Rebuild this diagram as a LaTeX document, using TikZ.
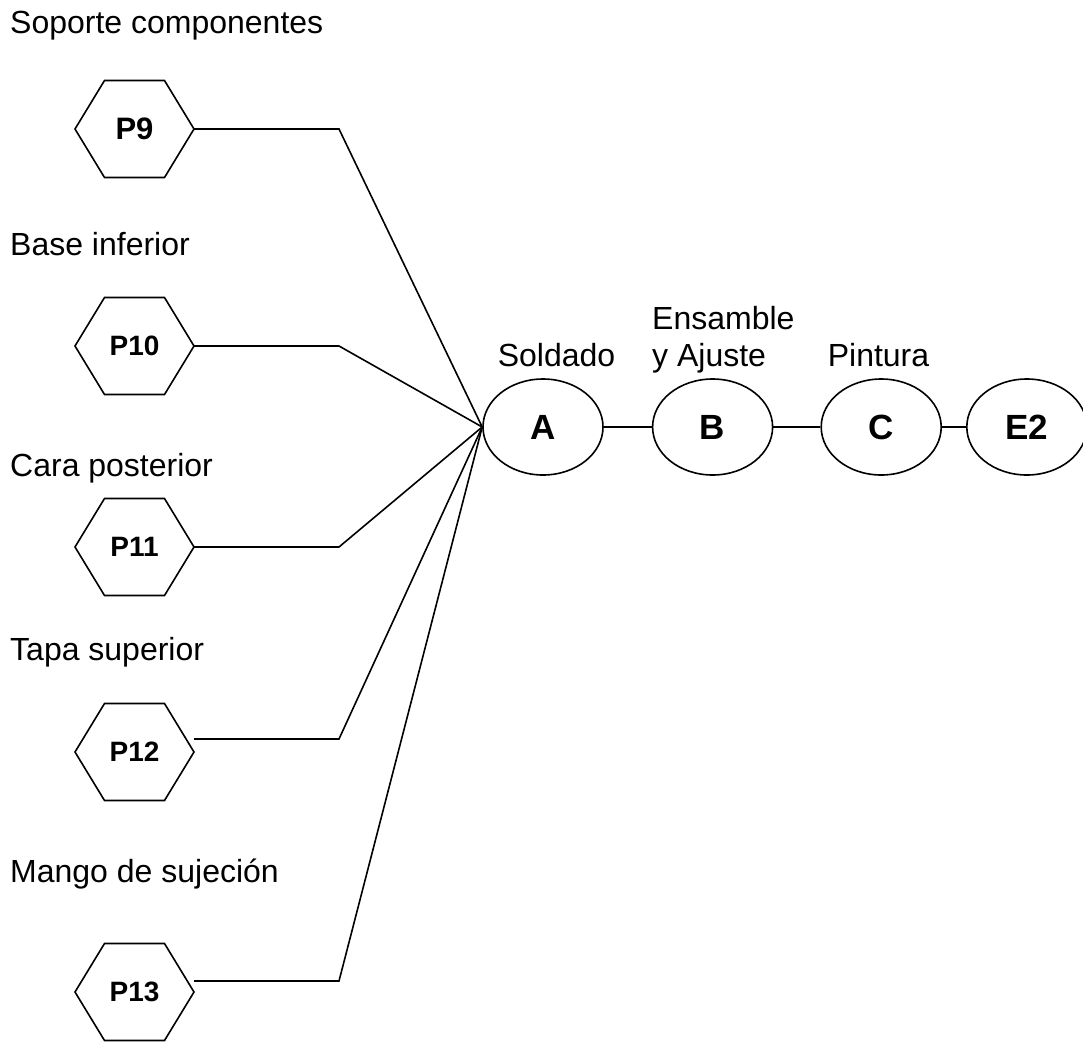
\documentclass[tikz,border=0pt]{standalone}
\usepackage{fontspec}
\setmainfont{Liberation Sans}
\usepackage{tikz}
\usetikzlibrary{positioning,shapes.geometric}
\definecolor{ink}{HTML}{000000}
\tikzset{
  partnode/.style={
    minimum width=119pt,
    minimum height=97pt,
    inner sep=0pt,
    outer sep=0pt,
    font=\bfseries\fontsize{28}{32}\selectfont
  },
  hexline/.style={line width=1.6pt,draw=ink,line join=miter},
  stepnode/.style={
    draw=ink,
    ellipse,
    minimum width=120pt,
    minimum height=96pt,
    inner sep=0pt,
    line width=1.6pt,
    font=\bfseries\fontsize{35}{40}\selectfont
  },
  parttext/.style={anchor=base west,inner sep=0pt,font=\fontsize{32}{37}\selectfont},
  steptext/.style={anchor=base,inner sep=0pt,align=left,font=\fontsize{32}{37}\selectfont},
  joinline/.style={line width=1.6pt,draw=ink}
}

\begin{document}
\begin{tikzpicture}[x=1pt,y=-1pt,node distance=48pt]
  \useasboundingbox (0,0) rectangle (1083,1041);
  \node[parttext] (t9) at (10,34) {Soporte componentes};
  \node[parttext] (t10) at (10,255) {Base inferior};
  \node[parttext] (t11) at (10,476) {Cara posterior};
  \node[parttext] (t12) at (10,660) {Tapa superior};
  \node[parttext] (t13) at (10,882) {Mango de sujeción};
  \node[partnode, font=\bfseries\fontsize{31}{36}\selectfont] (p9) at (134.5,129) {P9};
  \node[partnode] (p10) at (134.5,346) {P10};
  \node[partnode] (p11) at (134.5,547) {P11};
  \node[partnode] (p12) at (134.5,752) {P12};
  \node[partnode] (p13) at (134.5,992) {P13};
  \foreach \p in {p9,p10,p11,p12,p13}
    \draw[hexline] (\p.west) -- ([xshift=29.5pt]\p.north west) -- ([xshift=-29.5pt]\p.north east)
      -- (\p.east) -- ([xshift=-29.5pt]\p.south east) -- ([xshift=29.5pt]\p.south west) -- cycle;
  \node[stepnode] (A) at (543,427) {A};
  \node[stepnode, right=48pt of A] (B) {B};
  \node[stepnode, right=47pt of B] (C) {C};
  \node[stepnode, right=24pt of C] (E2) {E2};
  \node[steptext] (sA) at (556.5,366) {Soldado};
  \node[steptext, anchor=base west] (sB) at (652,366) {Ensamble\\y Ajuste};
  \node[steptext] (sC) at (878.5,366) {Pintura};
  \draw[joinline] (p9.east) -- ++(145,0) -- (A.west);
  \draw[joinline] (p10.east) -- ++(145,0) -- (A.west);
  \draw[joinline] (p11.east) -- ++(145,0) -- (A.west);
  \draw[joinline] ([yshift=13pt]p12.east) -- ++(145,0) -- (A.west);
  \draw[joinline] ([yshift=11pt]p13.east) -- ++(145,0) -- (A.west);
  \draw[joinline] (A) -- (B);
  \draw[joinline] (B) -- (C);
  \draw[joinline] (C) -- (E2);
\end{tikzpicture}
\end{document}
